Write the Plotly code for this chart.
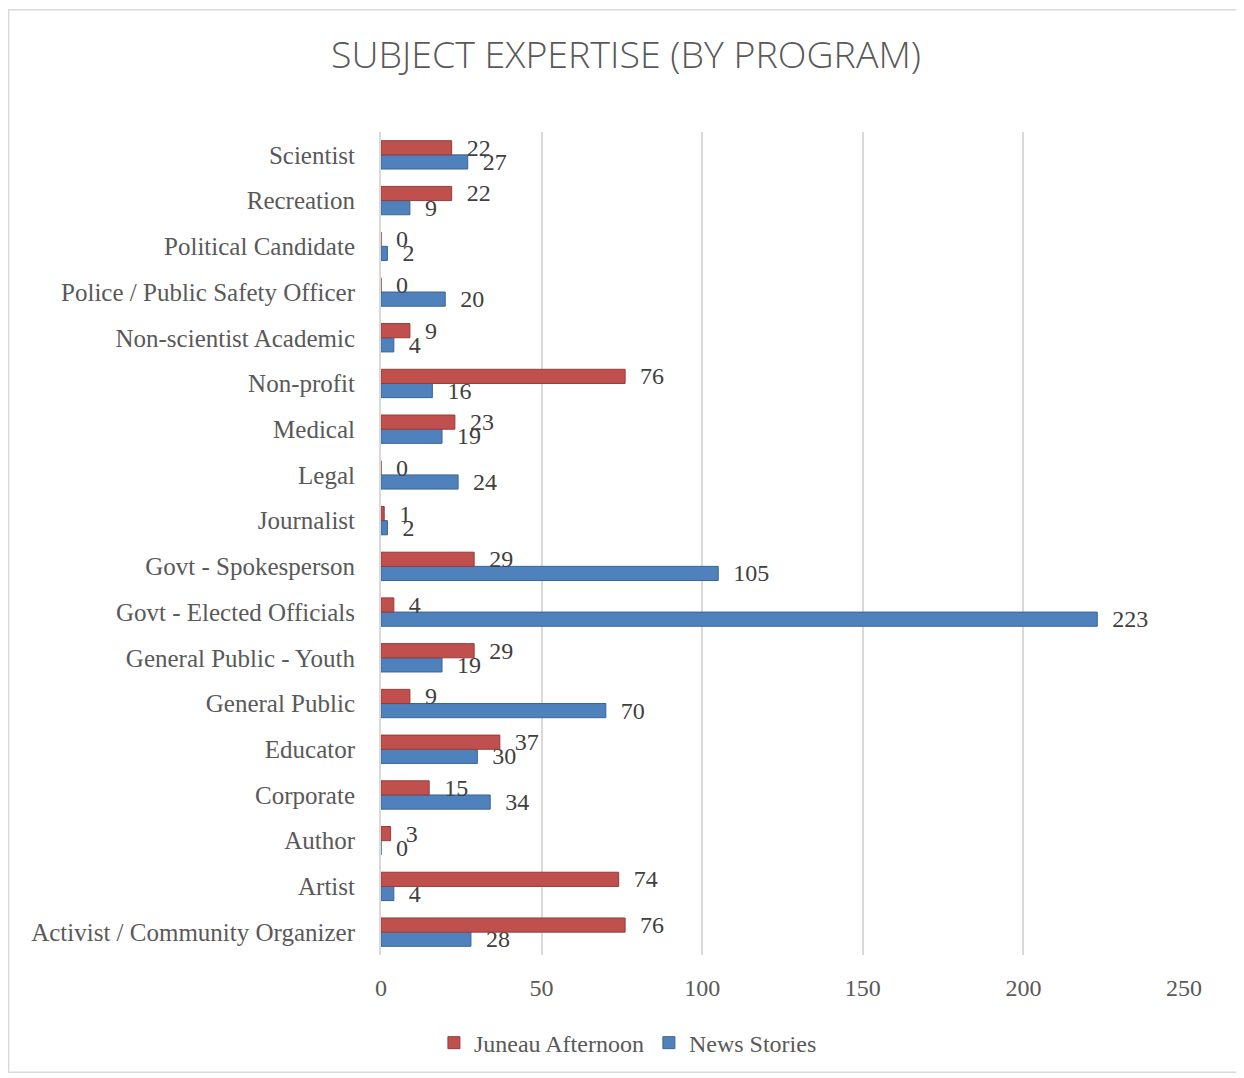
import plotly.graph_objects as go

categories = [
    "Activist / Community Organizer", "Artist", "Author", "Corporate", "Educator",
    "General Public", "General Public - Youth", "Govt - Elected Officials",
    "Govt - Spokesperson", "Journalist", "Legal", "Medical", "Non-profit",
    "Non-scientist Academic", "Police / Public Safety Officer",
    "Political Candidate", "Recreation", "Scientist",
]
juneau_afternoon = [76, 74, 3, 15, 37, 9, 29, 4, 29, 1, 0, 23, 76, 9, 0, 0, 22, 22]
news_stories = [28, 4, 0, 34, 30, 70, 19, 223, 105, 2, 24, 19, 16, 4, 20, 2, 9, 27]
x_ticks = [0, 50, 100, 150, 200, 250]

# page body adds an 8px margin, so the figure is a bit smaller than the window
W, H = 1236, 1070
L, R, T, B = 373, 60, 124, 118
pw, ph = W - L - R, H - T - B

txt = "#595959"
serif = "Liberation Serif, DejaVu Serif, serif"
fs = 24

fig = go.Figure()

# blue first so it sits below the red bar in each group
fig.add_trace(go.Bar(
    y=categories, x=news_stories, orientation='h', name='News Stories',
    marker=dict(color='#4F81BD', line=dict(color='#3A6596', width=1)),
    texttemplate='\u00a0\u00a0%{x}', textposition='outside', cliponaxis=False, constraintext='none',
    textfont=dict(size=fs, color='#404040', family=serif), legendrank=2, hoverinfo='x+name',
))
fig.add_trace(go.Bar(
    y=categories, x=juneau_afternoon, orientation='h', name='Juneau Afternoon',
    marker=dict(color='#C0504D', line=dict(color='#963C3A', width=1)),
    texttemplate='\u00a0\u00a0%{x}', textposition='outside', cliponaxis=False, constraintext='none',
    textfont=dict(size=fs, color='#404040', family=serif), legendrank=1, hoverinfo='x+name',
))

# outer chart border
fig.add_shape(
    type='rect', xref='paper', yref='paper',
    x0=-L / pw + 0.0008, x1=(pw + R) / pw,
    y0=-B / ph, y1=(ph + T - 1) / ph,
    line=dict(color='#D9D9D9', width=1.5), layer='below',
)

fig.update_layout(
    width=W, height=H,
    title=dict(text='SUBJECT EXPERTISE (BY PROGRAM)', x=0.5, xanchor='center', y=(H - 47) / H, yanchor='middle',
               font=dict(size=37.5, color=txt, family='Open Sans', weight=300)),
    paper_bgcolor='white', plot_bgcolor='white',
    font=dict(family=serif, color=txt, size=fs),
    barmode='group', bargap=0.38, bargroupgap=0,
    xaxis=dict(range=[0, 250], tickvals=x_ticks, showgrid=True, gridcolor='#D9D9D9', gridwidth=2,
               zeroline=False, ticks='', tickfont=dict(size=fs, color=txt), ticklabelstandoff=16),
    yaxis=dict(categoryorder='array', categoryarray=categories, showgrid=False, zeroline=False,
               ticks='', tickfont=dict(size=25, color=txt), ticklabelstandoff=19,
               showline=True, linecolor='#D9D9D9', linewidth=2),
    legend=dict(orientation='h', x=0.3075, xanchor='center', y=-0.107, yanchor='middle',
                font=dict(size=fs, color=txt), traceorder='normal', itemwidth=30),
    margin=dict(l=L, r=R, t=T, b=B),
    showlegend=True,
)

fig.write_html("out.html")
